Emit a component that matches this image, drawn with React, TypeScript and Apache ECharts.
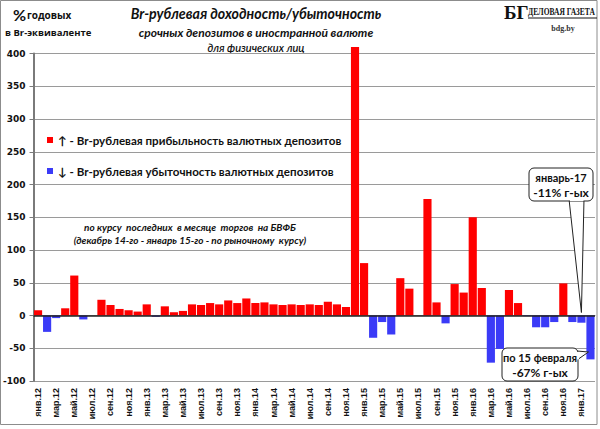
import React, { useEffect, useRef } from "react";
import * as echarts from "echarts";

const MONTHS = ["янв", "фев", "мар", "апр", "май", "июн", "июл", "авг", "сен", "окт", "ноя", "дек"];
const YEARS = ["12", "13", "14", "15", "16", "17"];
const categories: string[] = [];
YEARS.forEach((y) => MONTHS.forEach((m) => categories.push(m + "." + y)));
categories.splice(62);

const values = [
  8, -25, -4, 11, 61, -6, 0, 24, 16, 10, 8, 6,
  17, -2, 14, 5, 7, 17, 16, 19, 17, 23, 19, 26,
  19, 20, 17, 16, 17, 16, 17, 16, 21, 17, 13, 410,
  80, -34, -10, -29, 57, 41, 0, 178, 20, -12, 48, 35,
  150, 42, -72, -51, 39, 19, -1, -18, -18, -10, 49, -10,
  -11, -67,
];

const yTicks = { min: -100, max: 400, interval: 50 };
const legendNames = [
  "↑ - Br-рублевая прибыльность валютных депозитов",
  "↓ - Br-рублевая убыточность валютных депозитов",
];
const positives = values.map((v) => (v >= 0 ? v : null));
const negatives = values.map((v) => (v < 0 ? v : null));

const RED = "#ff0000";
const BLUE = "#3b3bf7";
const CAL = "Lato, 'Open Sans', sans-serif";

export default function App() {
  const ref = useRef<HTMLDivElement>(null);
  useEffect(() => {
    document.body.style.margin = "0";
    const chart = echarts.init(ref.current!, null, { renderer: "svg" });
    const option: any = {
      animation: false,
      backgroundColor: "#ffffff",
      grid: { left: 33, right: 5, top: 53.5, bottom: 48, containLabel: false },
      legend: {
        orient: "vertical",
        left: 42,
        top: 128,
        itemGap: 17,
        itemWidth: 6,
        itemHeight: 6,
        icon: "rect",
        textStyle: { fontFamily: CAL, fontWeight: "bold", fontSize: 11.6, color: "#111", lineHeight: 14 },
        data: legendNames,
      },
      xAxis: {
        type: "category",
        data: categories,
        axisLine: { show: true, lineStyle: { color: "#888", width: 1 } },
        axisTick: { show: false },
        axisLabel: {
          interval: 1,
          rotate: 90,
          margin: 7,
          fontFamily: "'Liberation Sans', Arial, sans-serif",
          fontWeight: "bold",
          fontSize: 9,
          color: "#111",
        },
        splitLine: { show: false },
      },
      yAxis: {
        type: "value",
        min: yTicks.min,
        max: yTicks.max,
        interval: yTicks.interval,
        axisLine: { show: true, lineStyle: { color: "#7a7a7a", width: 2 } },
        axisTick: { show: true, inside: false, length: 4, lineStyle: { color: "#7a7a7a" } },
        axisLabel: {
          margin: 8,
          fontFamily: "'DejaVu Sans', Verdana, sans-serif",
          fontWeight: "bold",
          fontSize: 9,
          color: "#111",
        },
        splitLine: { show: true, lineStyle: { color: "#9a9a9a", width: 1 } },
      },
      series: [
        {
          name: legendNames[0],
          type: "bar",
          data: positives,
          barCategoryGap: "10%",
          barGap: "-100%",
          clip: false,
          itemStyle: { color: RED },
          markLine: {
            silent: true,
            symbol: "none",
            label: { show: false },
            lineStyle: { color: "#222", width: 1.5, type: "solid" },
            data: [{ yAxis: 0 }],
          },
        },
        {
          name: legendNames[1],
          type: "bar",
          data: negatives,
          barCategoryGap: "10%",
          barGap: "-100%",
          itemStyle: { color: BLUE },
        },
      ],
      graphic: [],
    };
    chart.setOption(option);

    const tip1 = chart.convertToPixel({ gridIndex: 0 }, [60, 0]) as number[];
    const tip2 = chart.convertToPixel({ gridIndex: 0 }, [61, -20]) as number[];

    const graphic: any[] = [
      { type: "rect", shape: { x: 0.5, y: 0.5, width: 596.5, height: 424 }, style: { fill: "none", stroke: "#8c8c8c", lineWidth: 1 }, z: 0 },
      // top-left units
      { type: "text", left: 13, top: 6, style: { text: "%", font: `bold 16px ${CAL}`, fill: "#111" } },
      { type: "text", left: 27, top: 10, style: { text: "годовых", font: `bold 10px 'Open Sans', sans-serif`, fill: "#111" } },
      { type: "text", left: 5, top: 27, style: { text: "в Br-эквиваленте", font: `bold 9.5px 'Open Sans', sans-serif`, fill: "#111" } },
      // titles
      { type: "text", x: 256, y: 13, style: { text: "Br-рублевая доходность/убыточность", font: `italic bold 14.2px ${CAL}`, fill: "#111", align: "center", verticalAlign: "middle" } },
      { type: "text", x: 256, y: 32, style: { text: "срочных депозитов в иностранной валюте", font: `italic bold 12px ${CAL}`, fill: "#111", align: "center", verticalAlign: "middle" } },
      { type: "text", x: 256, y: 47, style: { text: "для физических лиц", font: `italic 600 11px ${CAL}`, fill: "#111", align: "center", verticalAlign: "middle" } },
      // logo
      { type: "text", x: 504, y: 12, style: { text: "БГ", font: `bold 19px 'Liberation Serif', 'DejaVu Serif', serif`, fill: "#111", verticalAlign: "middle" } },
      { type: "text", x: 528, y: 12, scaleX: 0.79, style: { x: 0, y: 0, text: "ДЕЛОВАЯ ГАЗЕТА", font: `bold 9.5px 'Liberation Serif', serif`, fill: "#111", verticalAlign: "middle" } },
      { type: "line", shape: { x1: 528, y1: 18, x2: 597, y2: 18 }, style: { stroke: "#111", lineWidth: 1 } },
      { type: "text", x: 563, y: 28, style: { text: "bdg.by", font: `bold 8px 'Liberation Serif', serif`, fill: "#333", align: "center", verticalAlign: "middle" } },
      // note
      { type: "text", x: 190, y: 227, style: { text: "по курсу  последних  в месяце  торгов  на БВФБ", font: `italic bold 10px ${CAL}`, fill: "#111", align: "center", verticalAlign: "middle" } },
      { type: "text", x: 190, y: 239.5, style: { text: "(декабрь 14-го - январь 15-го - по рыночному  курсу)", font: `italic bold 10px ${CAL}`, fill: "#111", align: "center", verticalAlign: "middle" } },
      // callout 1
      { type: "polygon", shape: { points: [[569, 199], [584, 199], [tip1[0], tip1[1] - 3]] }, style: { fill: "#fff", stroke: "#222", lineWidth: 1 }, z: 10 },
      { type: "rect", shape: { x: 529, y: 168, width: 64, height: 33, r: 5 }, style: { fill: "#fff", stroke: "#222", lineWidth: 1 }, z: 11 },
      { type: "rect", shape: { x: 570, y: 198, width: 13.5, height: 3 }, style: { fill: "#fff" }, z: 12 },
      { type: "text", x: 561, y: 177, style: { text: "январь-17", font: `bold 11px ${CAL}`, fill: "#111", align: "center", verticalAlign: "middle" }, z: 13 },
      { type: "text", x: 561, y: 192, style: { text: "-11% г-ых", font: `bold 12px ${CAL}`, fill: "#111", align: "center", verticalAlign: "middle" }, z: 13 },
      // callout 2
      { type: "polygon", shape: { points: [[577, 351], [577, 360], [tip2[0] - 2, 352]] }, style: { fill: "#fff", stroke: "#222", lineWidth: 1 }, z: 10 },
      { type: "rect", shape: { x: 502, y: 348, width: 76, height: 33, r: 5 }, style: { fill: "#fff", stroke: "#222", lineWidth: 1 }, z: 11 },
      { type: "rect", shape: { x: 576, y: 352, width: 3, height: 7.5 }, style: { fill: "#fff" }, z: 12 },
      { type: "text", x: 540, y: 357, style: { text: "по 15 февраля", font: `bold 11px ${CAL}`, fill: "#111", align: "center", verticalAlign: "middle" }, z: 13 },
      { type: "text", x: 540, y: 372.5, style: { text: "-67% г-ых", font: `bold 12px ${CAL}`, fill: "#111", align: "center", verticalAlign: "middle" }, z: 13 },
    ];
    chart.setOption({ graphic });
    return () => chart.dispose();
  }, []);
  return <div ref={ref} style={{ width: 600, height: 429 }} />;
}
